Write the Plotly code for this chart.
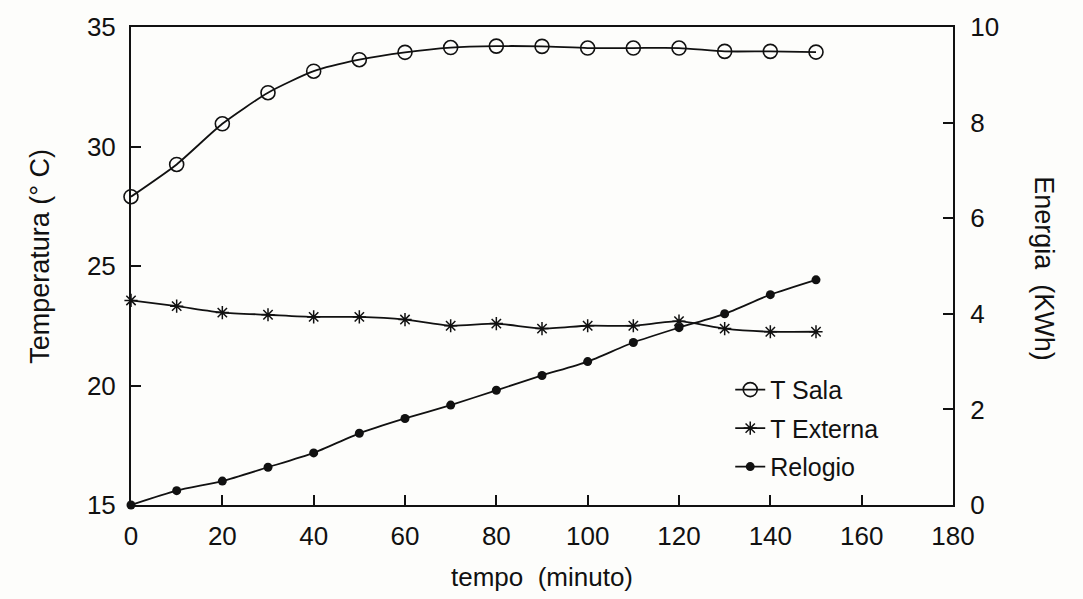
import plotly.graph_objects as go

tempo = [0, 10, 20, 30, 40, 50, 60, 70, 80, 90, 100, 110, 120, 130, 140, 150]
t_sala = [27.9, 29.25, 30.95, 32.25, 33.15, 33.63, 33.94, 34.14, 34.2, 34.19,
          34.12, 34.12, 34.12, 33.98, 33.98, 33.95]
t_externa = [23.56, 23.32, 23.05, 22.96, 22.87, 22.87, 22.76, 22.5, 22.59, 22.38,
             22.5, 22.5, 22.69, 22.38, 22.25, 22.25]
relogio = [0.0, 0.3, 0.5, 0.79, 1.09, 1.5, 1.81, 2.09, 2.4, 2.71,
           3.0, 3.4, 3.71, 4.0, 4.4, 4.71]

FONT = "Liberation Sans, Arial, Helvetica, sans-serif"
INK = "#111111"
FS = 26
FT = 27

fig = go.Figure()
fig.add_trace(go.Scatter(
    x=tempo, y=t_sala, name="T Sala", mode="lines+markers",
    line=dict(color=INK, width=1.8, shape="spline", smoothing=0.6),
    marker=dict(symbol="circle-open", size=14, color=INK, line=dict(width=1.6)),
    legendgroup="a", cliponaxis=False))
fig.add_trace(go.Scatter(
    x=tempo, y=t_externa, name="T Externa", mode="lines+markers",
    line=dict(color=INK, width=1.8, shape="spline", smoothing=0.6),
    marker=dict(symbol="asterisk-open", size=11, color=INK, line=dict(width=1.5, color=INK)),
    legendgroup="b", cliponaxis=False))
fig.add_trace(go.Scatter(
    x=tempo, y=relogio, name="Relogio", mode="lines+markers", yaxis="y2",
    line=dict(color=INK, width=1.8, shape="spline", smoothing=0.6),
    marker=dict(symbol="circle", size=9, color=INK),
    legendgroup="c", cliponaxis=False))

axis_common = dict(
    showgrid=False, zeroline=False, showline=True, linecolor=INK, linewidth=2,
    ticks="inside", ticklen=10, tickwidth=1.5, tickcolor=INK,
    tickfont=dict(family=FONT, size=FS, color=INK),
)

fig.update_layout(
    width=1083, height=599,
    margin=dict(l=131, r=130, t=22, b=94),
    paper_bgcolor="#fdfdfb", plot_bgcolor="#fdfdfb",
    font=dict(family=FONT, color=INK),
    xaxis=dict(range=[0, 180], dtick=20, mirror=True, ticklabelstandoff=7,
               title=dict(text="tempo  (minuto)", font=dict(family=FONT, size=FS, color=INK), standoff=18),
               **axis_common),
    yaxis=dict(range=[15, 35], dtick=5, mirror=False, ticklabelstandoff=8, **axis_common),
    yaxis2=dict(range=[0, 10], dtick=2, overlaying="y", side="right", ticklabelstandoff=10,
                **axis_common),
    showlegend=True,
    legend=dict(x=0.729, y=0.289, xanchor="left", yanchor="top",
                bgcolor="rgba(0,0,0,0)", tracegroupgap=3,
                font=dict(family=FONT, size=25, color=INK), itemwidth=30),
    annotations=[
        dict(text="Temperatura (° C)", x=-0.131, y=0.52, xref="paper", yref="paper",
             textangle=-90, showarrow=False, font=dict(family=FONT, size=FT, color=INK)),
        dict(text="Energia  (KWh)", x=1.1315, y=0.495, xref="paper", yref="paper",
             textangle=90, showarrow=False, font=dict(family=FONT, size=FT, color=INK)),
    ],
)

fig.write_html("out.html")
